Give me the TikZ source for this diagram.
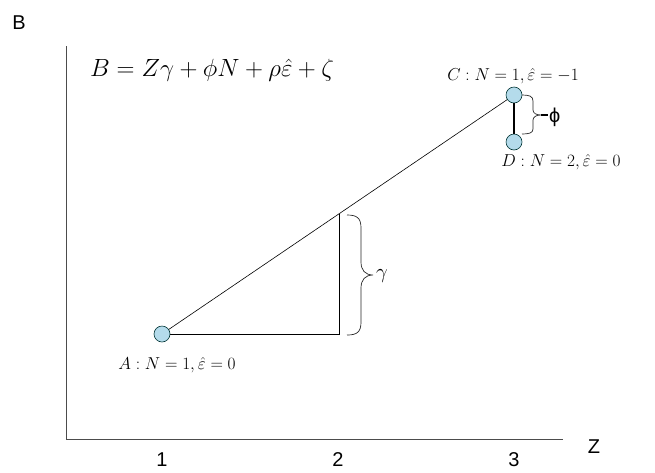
\documentclass[tikz,border=0pt]{standalone}
\usepackage{fontspec}
\setmainfont{Liberation Serif}
\newfontfamily\arialf{Liberation Sans}
\usetikzlibrary{backgrounds}
\begin{document}
\begin{tikzpicture}[x=1pt,y=-1pt,
  axis/.style={draw=black!70, line width=0.8pt},
  pt/.style={circle, draw=black!60!teal, fill=cyan!20!white!85!teal, line width=0.6pt, minimum size=16pt, inner sep=0pt},
  lbl/.style={font=\fontsize{17}{19}\selectfont, inner sep=0pt},
  sans/.style={font=\arialf\fontsize{20}{22}\selectfont, inner sep=0pt},
  brc/.style={draw=black!85, line width=0.7pt}]
\useasboundingbox (0,0) rectangle (655,472);
% axes
\coordinate (O) at (66,439);
\coordinate (Ytop) at (66,46);
\coordinate (Xend) at (563,439);
\draw[axis] (Ytop) -- (O) -- (Xend);
\node[sans] (ylab) at (19,23) {B};
\node[sans] (xlab) at (594,447) {Z};
\node[sans] (t1) at (162,460) {1};
\node[sans] (t2) at (338,460) {2};
\node[sans] (t3) at (514,460) {3};
% equation
\node[inner sep=0pt, font=\fontsize{23}{26}\selectfont] (eq) at (212,70) {$B = Z\gamma + \phi N + \rho\hat{\varepsilon} + \zeta$};
% points
\node[pt] (A) at (162,334) {};
\node[pt] (C) at (514,95) {};
\node[pt] (D) at (514,142) {};
\coordinate (M) at (339,334);
\coordinate (P) at (339,214);
\begin{scope}[on background layer]
\draw[line width=0.6pt] (A.center) -- (C.center);
\draw[line width=0.6pt] (A.center) -- (M) -- (P);
\end{scope}
\draw[line width=2.4pt] (C) -- (D);
% labels
\node[lbl] (Alab) at (177,365) {$A:N=1,\hat{\varepsilon}=0$};
\node[lbl] (Clab) at (513,76) {$C:N=1,\hat{\varepsilon}=-1$};
\node[lbl] (Dlab) at (561,162) {$D:N=2,\hat{\varepsilon}=0$};
% gamma brace
\coordinate (g1) at (347,215);
\coordinate (gt) at (373,275);
\coordinate (g2) at (347,335);
\draw[brc] (g1) .. controls (357,215) and (361,218) .. (361,228) -- (361,262)
  .. controls (361,270) and (365,275) .. (gt)
  .. controls (365,275) and (361,280) .. (361,288) -- (361,322)
  .. controls (361,332) and (357,335) .. (g2);
\node[inner sep=0pt, font=\fontsize{21}{23}\selectfont, anchor=west] (glab) at (376,276) {$\gamma$};
% phi brace
\coordinate (p1) at (522,95);
\coordinate (pb) at (541,115);
\coordinate (p2) at (522,134);
\draw[brc] (p1) .. controls (529,95) and (533,96) .. (533,101) -- (533,110)
  .. controls (533,113) and (536,115) .. (pb)
  .. controls (536,115) and (533,117) .. (533,120) -- (533,129)
  .. controls (533,133) and (529,134) .. (p2);
\coordinate (pe) at (548,115);
\draw[line width=2pt] (pb) -- (pe);
\node[sans, anchor=west] (plab) at (549,117) {ϕ};
\end{tikzpicture}
\end{document}
